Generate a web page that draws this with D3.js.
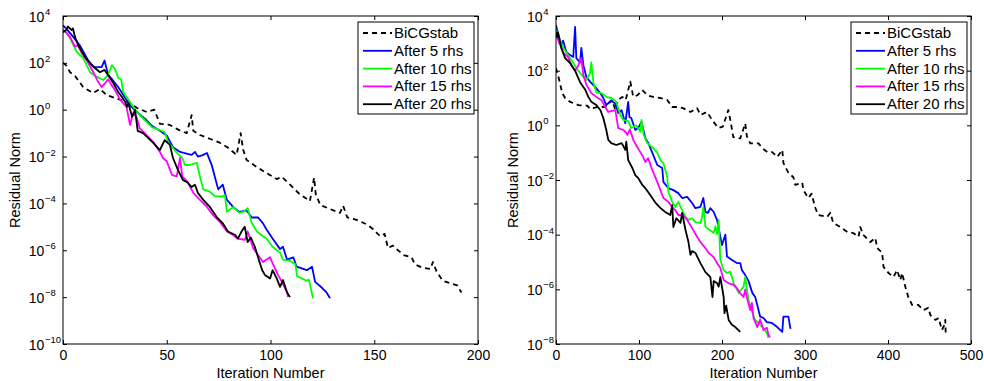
<!DOCTYPE html>
<html>
<head>
<meta charset="utf-8">
<script src="https://cdn.jsdelivr.net/npm/d3@7"></script>
<style>
  body { margin: 0; background: #fff; }
  svg { display: block; font-family: "Liberation Sans", Arial, Helvetica, sans-serif; }
</style>
</head>
<body>
<script>
// each point is [iteration, log10(residual norm)]
let leftBicg = [[0,2.0],[1.5,1.9],[3.4,1.6],[5.8,1.44],[9.7,0.97],[14.5,0.71],[17.8,0.88],[21,0.63],[25,0.5],[31,0.33],[35.6,0.08],[40.4,-0.1],[44,0.0],[46.7,-0.6],[51.5,-0.65],[56,-0.87],[59.6,-1.0],[62,-0.23],[62.8,-0.9],[66,-1.08],[71,-1.25],[74.9,-1.38],[79,-1.59],[83.7,-1.93],[85.6,-1.0],[86.8,-1.7],[88.5,-2.15],[93.3,-2.44],[98,-2.7],[103,-2.96],[105.5,-2.87],[108,-3.08],[111,-3.34],[114,-3.6],[119,-3.9],[121,-2.9],[121.8,-3.6],[124,-4.07],[128.7,-4.24],[133.5,-4.4],[135,-4.1],[137,-4.6],[141.5,-4.7],[146.5,-4.9],[149.5,-5.1],[152.8,-5.4],[155,-5.3],[156.6,-5.9],[159,-5.8],[164,-6.2],[168,-6.3],[169.6,-6.6],[173.5,-6.75],[177,-6.8],[178.3,-6.5],[180,-6.9],[183,-7.3],[186.5,-7.4],[190,-7.5],[192,-7.8]];
let leftBlue = [[0,3.6],[1.5,3.47],[4.8,3.12],[8,2.76],[12,2.12],[14.6,1.83],[18.6,1.82],[20,2.1],[21.8,1.48],[24,1.26],[26.6,0.97],[30,0.5],[33,0.12],[37,-0.2],[40.3,-0.45],[43,-0.7],[46.7,-0.9],[50,-1.1],[53,-1.6],[56.4,-1.8],[60,-1.88],[62,-1.93],[63.6,-1.8],[65,-2.0],[67,-1.95],[69.4,-1.85],[71.8,-2.4],[73.3,-2.9],[74.8,-3.4],[77,-3.2],[79,-3.85],[82,-4.15],[85,-4.36],[88.5,-4.3],[91,-4.6],[94,-4.6],[96.4,-4.85],[98,-5.1],[101,-5.5],[104.6,-5.95],[106,-5.85],[108,-6.4],[111,-6.3],[112.6,-6.7],[117.5,-6.85],[120,-6.7],[121.5,-7.35],[124.8,-7.6],[127,-7.8],[128.7,-8.05]];
let leftGreen = [[0,3.4],[1.5,3.3],[3.4,3.05],[6.7,2.46],[9.8,2.2],[13,1.6],[16.4,1.4],[19.4,1.27],[21.7,1.48],[23.6,1.9],[25,1.75],[26.7,1.35],[28,1.3],[29,0.76],[32.3,0.33],[35.6,-0.1],[39.5,-0.45],[43,-0.75],[46.7,-0.87],[49,-0.95],[50.6,-1.38],[55,-1.85],[57.5,-2.06],[58.8,-2.36],[61,-2.36],[64.5,-2.27],[66,-2.85],[67.6,-3.4],[70.8,-3.5],[73.3,-3.7],[76.6,-3.7],[78,-3.65],[79,-4.36],[82,-4.15],[85,-4.4],[87,-4.35],[89,-4.2],[91,-4.85],[93.5,-5.2],[96.4,-5.4],[98,-5.5],[101,-5.85],[104.6,-6.1],[106,-6.4],[109.4,-6.45],[112,-6.6],[112.8,-7.1],[115,-7.2],[117.5,-7.3],[118.5,-7.25],[120.5,-8.05]];
let leftMagenta = [[0,3.4],[1.5,3.3],[3.4,3.1],[5.8,2.7],[7.3,2.76],[9,2.42],[11.5,2.1],[14.6,1.6],[17,1.18],[18.6,0.97],[20,1.1],[21.8,1.3],[23.4,1.05],[25,0.85],[27.5,0.43],[30.6,0.12],[32.3,-0.65],[33.8,-0.15],[35.6,-0.35],[37,-0.8],[40.3,-1.08],[43.5,-1.38],[46.7,-1.8],[48.2,-2.06],[50,-2.2],[52.5,-2.78],[54.8,-2.85],[56.4,-2.06],[57.5,-2.85],[60,-3.08],[62.8,-3.55],[66,-3.85],[69.4,-4.15],[72.3,-4.5],[75.7,-4.8],[79,-5.2],[82,-5.35],[84,-5.5],[87.7,-5.55],[89,-5.2],[91.6,-5.9],[94,-6.2],[96.4,-6.5],[99.8,-6.3],[101,-6.55],[103.6,-7.05],[105.5,-7.35],[108,-7.8],[108.4,-8.0]];
let leftBlack = [[0,3.3],[1.5,3.4],[2.4,3.55],[4.2,3.4],[4.8,3.47],[5.8,3.1],[7.3,2.76],[10.6,2.25],[13,2.0],[15.4,1.78],[17.8,1.6],[20,1.7],[22.7,1.35],[24.2,1.14],[26.6,0.76],[28.4,0.54],[30,0.33],[30.8,0.12],[31.5,0.28],[33.3,-0.3],[34.7,0.0],[36,-0.9],[38.6,-1.0],[41,-1.2],[43.5,-1.42],[46.7,-1.72],[49,-1.3],[51.5,-1.5],[53,-2.06],[55.4,-2.57],[57.8,-3.0],[60,-3.1],[62,-3.3],[63.6,-3.2],[65,-3.55],[67.6,-3.85],[70.8,-4.15],[74.2,-4.6],[77,-4.85],[79.5,-5.2],[83,-5.35],[84.3,-5.5],[86,-5.2],[87.6,-5.0],[89,-5.65],[90.5,-5.45],[92.5,-5.86],[94,-6.3],[96,-6.85],[97.3,-7.05],[99.8,-7.2],[101,-6.85],[103,-7.2],[104.6,-7.56],[106,-7.27],[108,-7.8],[109.4,-8.0]];

let rightBicg = [[0,2.1],[1.2,1.96],[3,1.77],[7.5,1.18],[11,1.0],[17,0.86],[27,0.74],[37.7,0.72],[41,0.6],[49.7,0.67],[59.4,0.67],[67.8,0.93],[71.4,0.56],[75,0.93],[79.9,1.04],[84,0.93],[89.5,1.6],[91.5,1.3],[93,1.05],[98,1.1],[104,1.29],[110,1.1],[117,1.04],[125.7,1.0],[134,0.93],[140,0.67],[146,0.67],[153,0.63],[162,0.49],[170,0.63],[174,0.38],[182,0.49],[188,0.2],[195.6,-0.1],[201,-0.05],[207.6,0.56],[210,0.2],[213.6,-0.43],[222,-0.48],[228,0.07],[230,-0.4],[234,-0.66],[244,-0.66],[248.6,-0.84],[254.6,-0.98],[260.6,-0.98],[266.6,-1.16],[272.6,-0.9],[274,-1.38],[280,-1.74],[286,-1.9],[288.3,-2.18],[296.7,-2.1],[298,-2.37],[304,-2.66],[308,-2.5],[312,-2.99],[316,-3.28],[326.7,-3.35],[330.5,-3.2],[334,-3.57],[342.5,-3.72],[351,-3.9],[358,-3.94],[364.5,-4.08],[366.6,-3.72],[370,-4.0],[378.7,-4.27],[384.7,-4.12],[387,-4.49],[393,-4.67],[394.6,-5.18],[400.6,-5.4],[406.6,-5.55],[411,-5.3],[414.8,-5.66],[417,-5.4],[420.8,-5.9],[424.4,-6.28],[429,-6.57],[436.5,-6.57],[442.7,-6.76],[448.5,-6.68],[451,-6.94],[457,-7.12],[461,-7.05],[465,-7.49],[468,-7.3],[469,-7.12],[469.5,-7.6]];
let rightBlue = [[0,3.67],[2.8,3.3],[6.4,2.94],[8.5,3.1],[12.4,2.68],[17,2.57],[20.8,2.5],[23,3.6],[24.5,2.46],[29,2.3],[30.5,2.83],[33,2.2],[36.6,1.77],[41,1.6],[47.3,1.4],[53.4,1.18],[57,1.0],[60.6,0.74],[66,0.9],[71.5,0.8],[75,0.45],[79,0.55],[83.5,0.08],[87,0.86],[88.5,0.3],[90.7,0.27],[95.5,-0.17],[99,-0.1],[103,0.12],[107.6,-0.46],[111.2,-0.65],[116,-1.0],[122,-1.45],[128,-1.56],[129.4,-2.07],[135.4,-2.3],[141.4,-2.37],[147.3,-2.48],[152,-2.66],[158,-2.62],[164,-2.84],[168,-3.03],[174,-2.98],[177.5,-2.66],[180,-3.17],[183,-3.2],[186,-3.03],[190,-3.17],[194,-3.46],[196,-3.76],[200,-4.38],[204,-4.0],[206,-4.8],[212,-4.93],[218,-5.04],[222,-5.04],[224,-5.3],[228,-5.48],[232,-5.7],[236.5,-6.13],[240,-6.28],[242.5,-6.57],[246,-7.0],[250,-7.05],[254,-7.2],[260,-7.23],[266.5,-7.38],[272.6,-7.56],[274,-7.0],[280,-7.0],[282.5,-7.45]];
let rightGreen = [[0,3.49],[5,3.12],[8.8,2.83],[14.6,2.57],[20.8,2.28],[26.8,2.0],[33,1.77],[36.6,1.66],[41,1.9],[42.5,2.3],[45,1.58],[48.6,1.2],[54.6,1.18],[60.6,1.04],[66.6,1.0],[72.6,0.86],[77.5,0.38],[81,0.2],[87,0.15],[90.7,-0.1],[96.7,0.0],[101.6,-0.24],[103,0.2],[105.7,-0.35],[110,-0.65],[116,-0.8],[122,-1.0],[125.8,-1.27],[129.4,-1.38],[134,-1.89],[135.4,-2.44],[140,-2.8],[143.7,-2.99],[147.3,-2.8],[152,-3.1],[156,-3.35],[159.6,-3.46],[164,-3.4],[168,-3.54],[174,-3.57],[176,-3.35],[177.5,-2.99],[180,-3.7],[182,-3.76],[186,-3.85],[190,-3.94],[192,-3.7],[194,-3.98],[196,-3.46],[198,-4.93],[202,-5.3],[206,-5.4],[210,-5.35],[214,-5.77],[220,-6.13],[226,-5.9],[228,-5.55],[232,-6.4],[236.5,-6.83],[240,-7.12],[246,-7.3],[250,-7.42],[254,-7.6],[256,-7.78]];
let rightMagenta = [[0,3.3],[5,2.94],[8.8,2.65],[14.6,2.5],[18.4,2.2],[23,2.0],[27,2.2],[30.5,2.46],[33,1.84],[36.6,1.48],[42.5,1.18],[48.6,1.04],[54.6,0.93],[59.4,0.67],[63,0.49],[71.5,0.56],[75,-0.1],[81,-0.17],[84.7,-0.28],[86,-0.35],[89,-0.15],[93.4,-0.55],[98,-0.8],[104,-1.1],[107.6,-1.34],[111,-1.2],[116,-1.63],[122,-2.07],[125.8,-2.37],[129.4,-2.66],[135.4,-2.8],[140,-3.0],[143.7,-3.1],[147.3,-3.28],[153,-3.28],[158,-3.46],[164,-3.76],[170,-4.08],[174,-4.27],[180,-4.49],[184,-4.67],[190,-4.82],[194,-5.04],[198,-5.22],[202,-5.66],[207.6,-5.77],[214,-5.84],[218,-5.95],[222,-6.15],[226,-6.28],[228,-6.0],[230,-6.3],[234,-6.76],[236,-6.5],[238,-7.05],[242.5,-7.38],[246,-7.1],[250,-7.49],[254,-7.4],[256,-7.67],[258,-7.75]];
let rightBlack = [[0,3.41],[1.5,3.23],[2.5,3.4],[6.4,2.83],[11,2.46],[17,2.28],[23,2.0],[29,1.58],[35.3,1.3],[39,1.04],[42.5,0.86],[48.6,0.74],[53.4,0.56],[57,0.27],[60.6,-0.17],[63,-0.53],[66.6,-0.65],[72.6,-0.72],[79,-0.65],[81,-0.75],[83.5,-0.9],[84.7,-0.6],[87,-1.27],[92,-1.56],[95.5,-1.82],[99,-1.93],[104,-2.18],[107.6,-2.3],[111,-2.44],[116,-2.66],[120,-2.84],[126,-3.03],[131.6,-3.17],[137.7,-3.28],[140,-2.92],[141.4,-3.72],[145,-3.4],[150,-3.57],[152,-3.2],[156,-3.83],[159.6,-4.27],[162,-4.74],[164,-4.6],[168,-4.67],[174,-5.04],[180,-5.37],[186,-5.55],[188.5,-6.28],[190,-5.7],[194,-5.77],[196,-5.9],[198,-5.55],[202,-6.28],[203,-6.87],[205,-6.6],[208,-7.12],[212,-7.3],[216,-7.38],[222,-7.56]];

let seriesNames = ["BiCGstab", "After 5 rhs", "After 10 rhs", "After 15 rhs", "After 20 rhs"];
let seriesColors = ["#000000", "#0000ff", "#00ff00", "#ff00ff", "#000000"];

let leftXTicks = [0, 50, 100, 150, 200];
let rightXTicks = [0, 100, 200, 300, 400, 500];
let leftYExps = [4, 2, 0, -2, -4, -6, -8, -10];
let rightYExps = [4, 2, 0, -2, -4, -6, -8];

(function() {
  let svg = "";

  window.onload = function() {
    svg = d3.select("body").append("svg")
      .attr("width", 984)
      .attr("height", 381);

    drawPanel({
      id: "left", x0: 63, x1: 478, y0: 16, y1: 344, legendX: 358,
      xTicks: leftXTicks, yExps: leftYExps,
      series: [leftBicg, leftBlue, leftGreen, leftMagenta, leftBlack]
    });
    drawPanel({
      id: "right", x0: 556, x1: 971, y0: 16, y1: 344, legendX: 851,
      xTicks: rightXTicks, yExps: rightYExps,
      series: [rightBicg, rightBlue, rightGreen, rightMagenta, rightBlack]
    });
  }

  function drawPanel(p) {
    let xScale = d3.scaleLinear()
      .domain([p.xTicks[0], p.xTicks[p.xTicks.length - 1]])
      .range([p.x0, p.x1]);
    let yScale = d3.scaleLog()
      .domain([Math.pow(10, d3.min(p.yExps)), Math.pow(10, d3.max(p.yExps))])
      .range([p.y1, p.y0]);
    let yTicks = p.yExps.map((e) => Math.pow(10, e));

    let g = svg.append("g");

    g.append("clipPath").attr("id", "clip-" + p.id)
      .append("rect")
      .attr("x", p.x0).attr("y", p.y0)
      .attr("width", p.x1 - p.x0).attr("height", p.y1 - p.y0);

    // curves
    let line = d3.line()
      .x((d) => xScale(d[0]))
      .y((d) => yScale(Math.pow(10, d[1])));
    p.series.forEach((s, i) => {
      g.append("path")
        .datum(s)
        .attr("clip-path", "url(#clip-" + p.id + ")")
        .attr("fill", "none")
        .attr("stroke", seriesColors[i])
        .attr("stroke-width", 1.8)
        .attr("stroke-linejoin", "round")
        .attr("stroke-dasharray", i == 0 ? "5,4" : null)
        .attr("d", line);
    });

    // inward ticks on all four sides
    let bottom = g.append("g")
      .attr("transform", "translate(0," + p.y1 + ")")
      .call(d3.axisBottom(xScale).tickValues(p.xTicks).tickSize(-4).tickPadding(6.5));
    g.append("g")
      .attr("transform", "translate(0," + p.y0 + ")")
      .call(d3.axisTop(xScale).tickValues(p.xTicks).tickSize(-4).tickFormat(""));
    g.append("g")
      .attr("transform", "translate(" + p.x0 + ",0)")
      .call(d3.axisLeft(yScale).tickValues(yTicks).tickSize(-4).tickFormat(""));
    g.append("g")
      .attr("transform", "translate(" + p.x1 + ",0)")
      .call(d3.axisRight(yScale).tickValues(yTicks).tickSize(-4).tickFormat(""));
    g.selectAll(".domain").remove();
    g.selectAll(".tick line").attr("stroke", "#000");
    bottom.selectAll("text")
      .attr("fill", "#000")
      .style("font-size", "14px")
      .style("font-family", "Liberation Sans, Arial, sans-serif");

    g.append("rect")
      .attr("x", p.x0).attr("y", p.y0)
      .attr("width", p.x1 - p.x0).attr("height", p.y1 - p.y0)
      .attr("fill", "none")
      .attr("stroke", "#000")
      .attr("stroke-width", 1);

    // y tick labels as 10 with a superscript exponent
    let expTexts = g.selectAll(".yexp")
      .data(p.yExps)
      .enter()
      .append("text")
        .attr("class", "yexp")
        .attr("y", (d) => yScale(Math.pow(10, d)) - 1)
        .style("font-size", "9.5px")
        .text((d) => d < 0 ? "\u2212" + (-d) : "" + d);
    let maxW = 0;
    expTexts.each(function() { maxW = Math.max(maxW, this.getComputedTextLength()); });
    let baseRight = p.x0 - 2 - maxW - 0.5;
    expTexts.attr("x", baseRight + 0.5);
    g.selectAll(".ybase")
      .data(p.yExps)
      .enter()
      .append("text")
        .attr("class", "ybase")
        .attr("x", baseRight)
        .attr("y", (d) => yScale(Math.pow(10, d)) + 5.5)
        .attr("text-anchor", "end")
        .style("font-size", "14px")
        .text("10");

    // axis labels
    g.append("text")
      .attr("x", (p.x0 + p.x1) / 2)
      .attr("y", 377.5)
      .attr("text-anchor", "middle")
      .style("font-size", "14.5px")
      .text("Iteration Number");
    g.append("text")
      .attr("transform", "translate(" + (baseRight - 24.5) + "," + ((p.y0 + p.y1) / 2) + ")rotate(-90)")
      .attr("text-anchor", "middle")
      .style("font-size", "14.5px")
      .text("Residual Norm");

    makeLegend(g, p.legendX, 22);
  }

  function makeLegend(g, lx, ly) {
    g.append("rect")
      .attr("x", lx).attr("y", ly)
      .attr("width", 116).attr("height", 92)
      .attr("fill", "#fff")
      .attr("stroke", "#000")
      .attr("stroke-width", 1);
    seriesNames.forEach((name, i) => {
      let ry = ly + 11 + i * 17.8;
      g.append("line")
        .attr("x1", lx + 5).attr("x2", lx + 34)
        .attr("y1", ry).attr("y2", ry)
        .attr("stroke", seriesColors[i])
        .attr("stroke-width", 1.8)
        .attr("stroke-dasharray", i == 0 ? "5,4" : null);
      g.append("text")
        .attr("x", lx + 36)
        .attr("y", ry + 5)
        .style("font-size", "15px")
        .text(name);
    });
  }
})();
</script>
</body>
</html>
